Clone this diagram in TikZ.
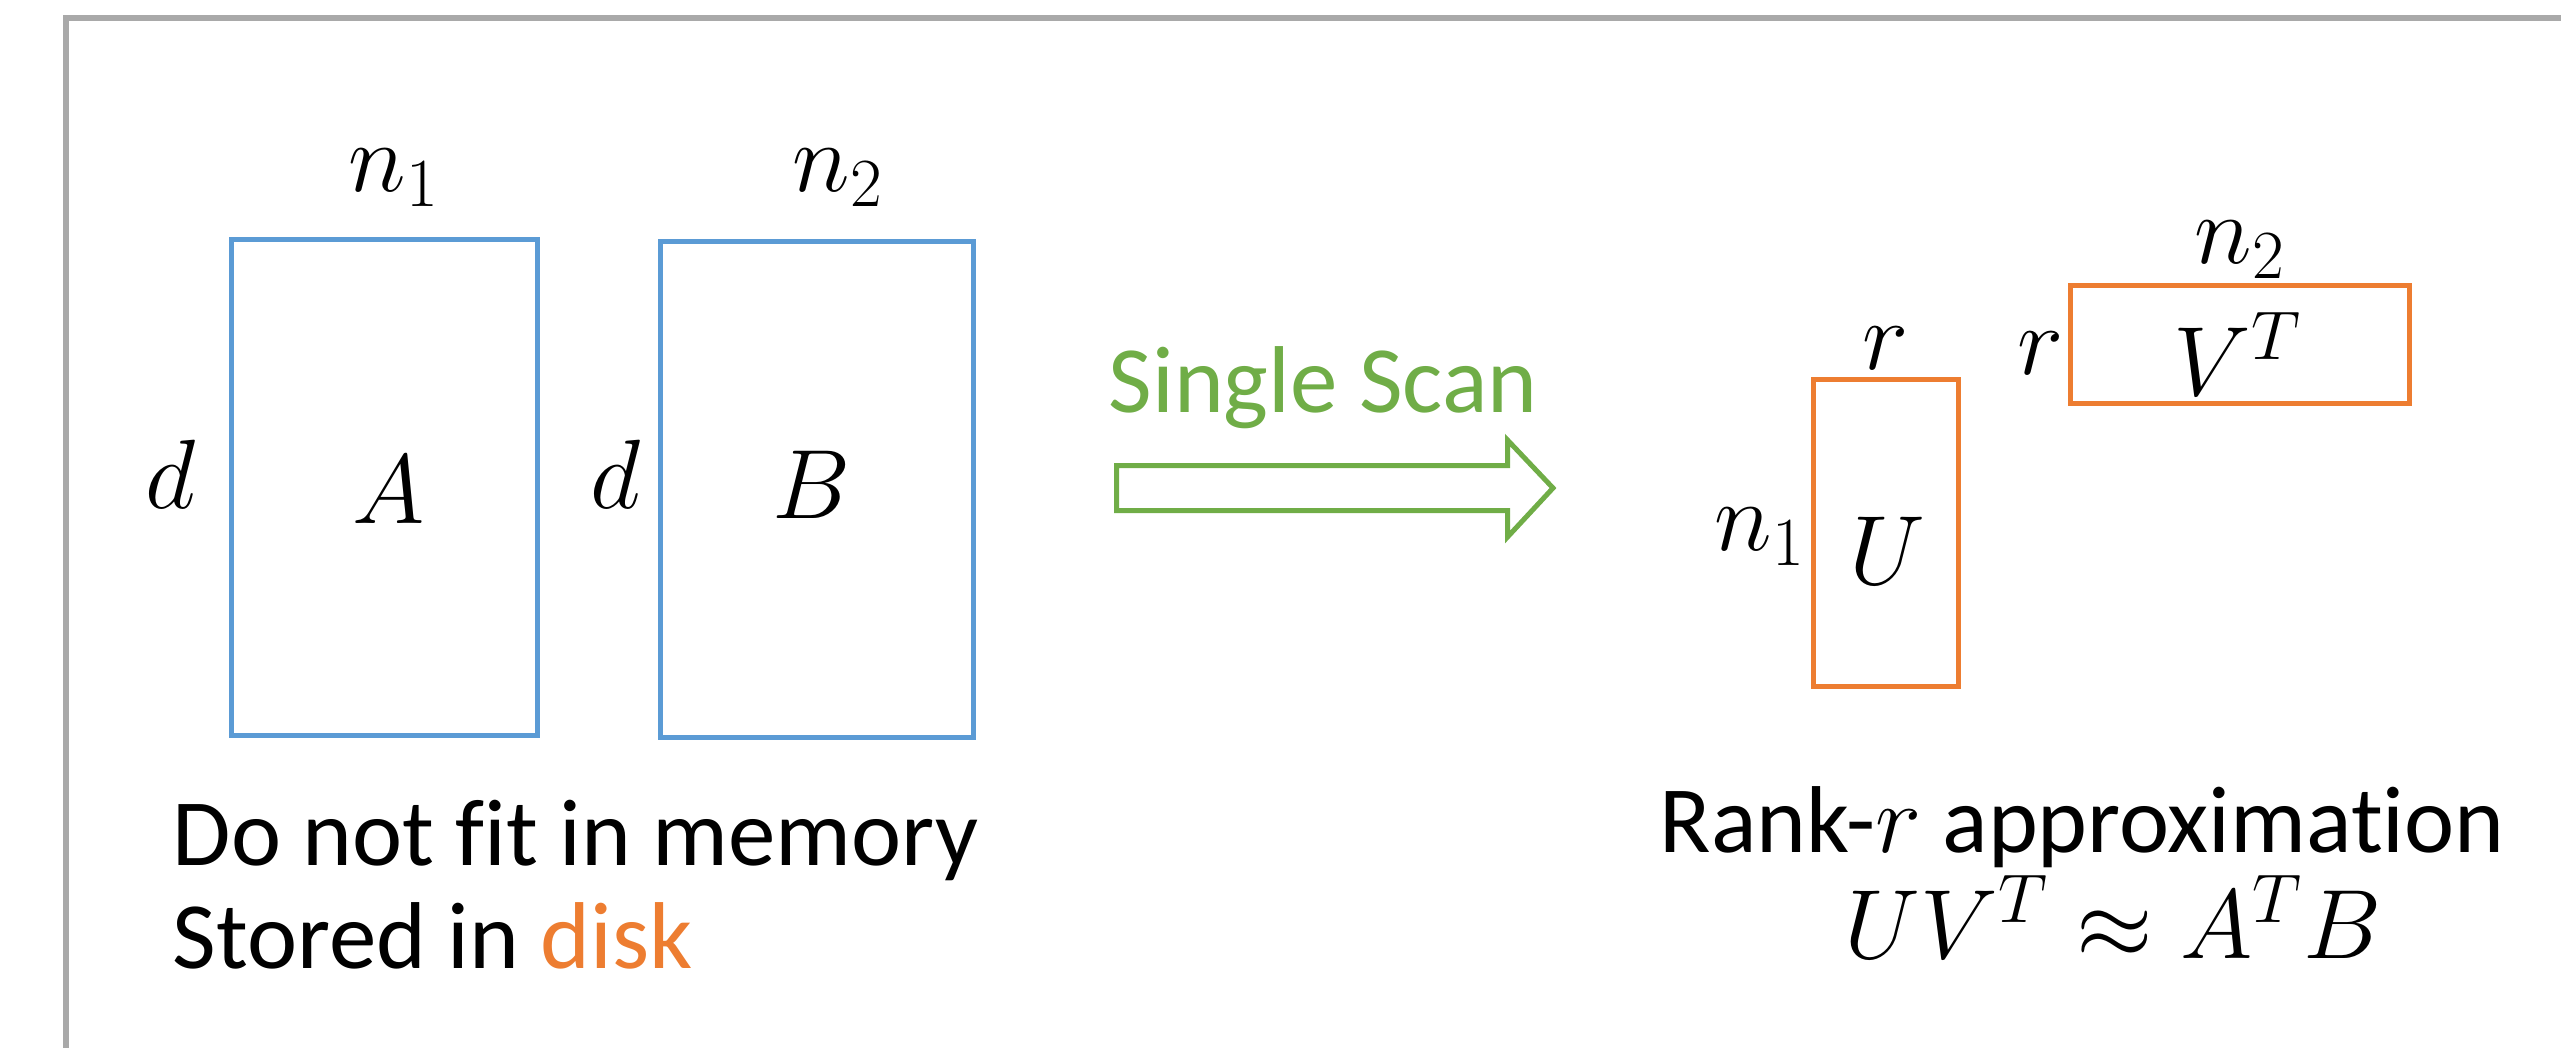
\RequirePackage{fix-cm}
\documentclass[tikz,border=0pt]{standalone}
\usepackage[no-math]{fontspec}
\setmainfont[Ligatures=NoCommon]{Carlito}
\definecolor{matblue}{HTML}{5B9BD5}
\definecolor{matorange}{HTML}{ED7D31}
\definecolor{scangreen}{HTML}{70AD47}
\definecolor{framegray}{HTML}{A9A9A9}
\newcommand{\mathsz}{\fontsize{28}{34}\selectfont}
\newcommand{\txtsz}{\fontsize{27}{32}\selectfont}
\begin{document}
\begin{tikzpicture}[x=0.01cm,y=-0.01cm,
  frameline/.style={draw=framegray, line width=1.6pt},
  bluemat/.style={draw=matblue, line width=1.42pt, inner sep=0pt},
  orangemat/.style={draw=matorange, line width=1.42pt, inner sep=0pt},
  lbl/.style={font=\mathsz, inner sep=0pt},
  txt/.style={font=\txtsz, inner sep=0pt},
  scanarrow/.style={draw=scangreen, line width=1.42pt, line join=miter}]
\useasboundingbox (0,0) rectangle (2561,1047);
\begin{scope}
  \clip (0,0) rectangle (2561,1047);
  \draw[frameline] (66,1100) -- (66,18) -- (2620,18);
\end{scope}

% input matrices
\node[bluemat, minimum width=3.05cm, minimum height=4.95cm] (A) at (384.5,487.5) {};
\node[bluemat, minimum width=3.12cm, minimum height=4.95cm] (B) at (817,489.5) {};
\node[lbl] (Al) at (389,490) {$A$};
\node[lbl] (Bl) at (812,485) {$B$};
\node[lbl] (n1A) at (394,178) {$n_1$};
\node[lbl] (n2B) at (838,178) {$n_2$};
\node[lbl] (dA) at (171,474) {$d$};
\node[lbl] (dB) at (616,474) {$d$};

% arrow
\node[txt, anchor=base west, text=scangreen] (scan) at (1108,412) {Single Scan};
\coordinate (arr) at (1116.5,488);
\draw[scanarrow] (arr) ++(0,-22.5) -- ++(391,0) -- ++(0,-25.5) -- (1553,488)
  -- (1507.5,537) -- (1507.5,510.5) -- (1116.5,510.5) -- cycle;

% output factors
\node[orangemat, minimum width=1.44cm, minimum height=3.07cm] (U) at (1886,533) {};
\node[orangemat, minimum width=3.38cm, minimum height=1.17cm] (VT) at (2240,344.5) {};
\node[lbl] (Ul) at (1887,551) {$U$};
\node[lbl] (VTl) at (2238,354) {$V^T$};
\node[lbl] (rU) at (1886,348) {$r$};
\node[lbl] (rV) at (2041,353) {$r$};
\node[lbl] (n1U) at (1760,537) {$n_1$};
\node[lbl] (n2V) at (2240,250) {$n_2$};

% captions
\node[txt, anchor=base west] (cap1) at (172,865) {Do not fit in memory};
\node[txt, anchor=base west] (cap2) at (172,968) {Stored in \textcolor{matorange}{disk}};
\node[txt, anchor=base] (cap3) at (2082,852) {Rank-{\mathsz$r$} approximation};
\node[lbl, anchor=base] (cap4) at (2113,958) {$UV^T \approx A^T B$};
\end{tikzpicture}
\end{document}
